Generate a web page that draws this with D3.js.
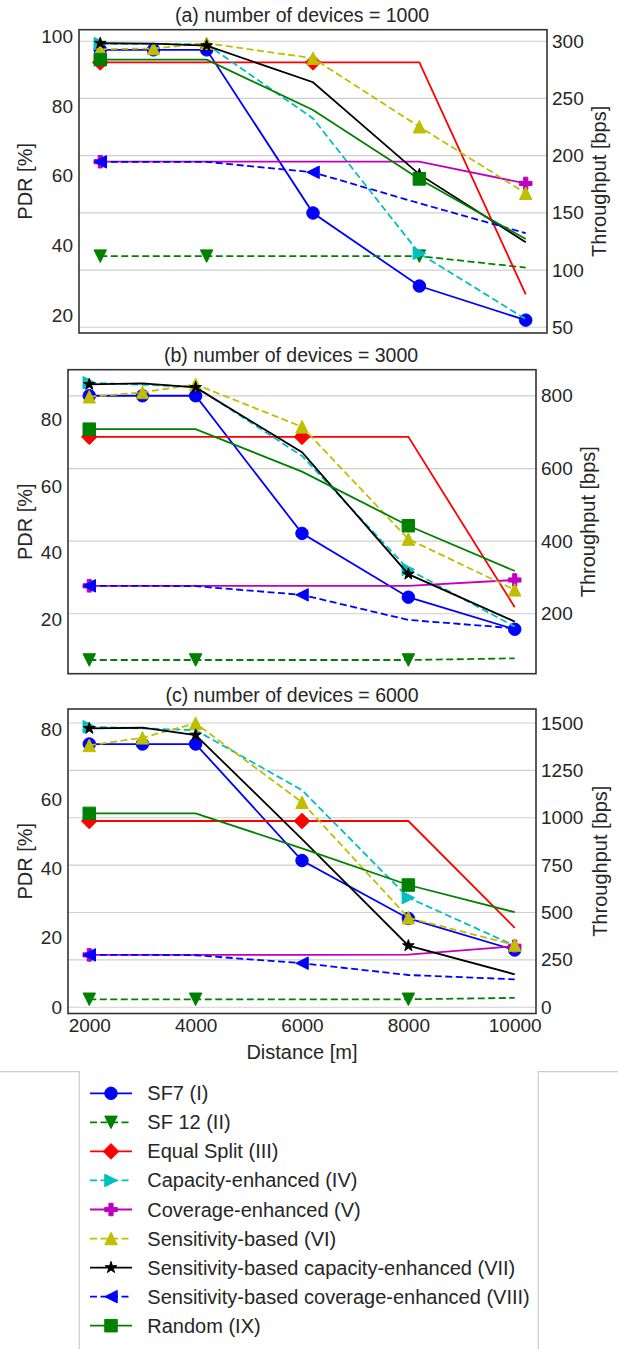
<!DOCTYPE html>
<html><head><meta charset="utf-8">
<script src="https://cdn.jsdelivr.net/npm/d3@7"></script>
<style>
body{margin:0;background:#fff}
svg{display:block}
text{font-family:"Liberation Sans",Arial,sans-serif;fill:#262626}
</style>
</head><body>
<svg id="chart" width="618" height="1349"></svg>
<script>
// ---------------- DATA ----------------
const distances = [2000, 3000, 4000, 6000, 8000, 10000];
const seriesNames = [
  "SF7 (I)", "SF 12 (II)", "Equal Split (III)", "Capacity-enhanced (IV)",
  "Coverage-enhanced (V)", "Sensitivity-based (VI)",
  "Sensitivity-based capacity-enhanced (VII)",
  "Sensitivity-based coverage-enhanced (VIII)", "Random (IX)"
];
const seriesColors = ["#0000ff", "#008000", "#ff0000", "#00bfbf", "#bf00bf", "#bfbf00", "#000000", "#0000ff", "#008000"];
const seriesDashed = [false, true, false, true, false, true, false, true, false];
const seriesMarkers = ["circle", "tri-down", "diamond", "tri-right", "plus", "tri-up", "star", "tri-left", "square"];
// indices into distances where a marker is shown
const seriesMarkerAt = [[0,1,2,3,4,5],[0,2,4],[0,3],[0,4],[0,5],[0,1,2,3,4,5],[0,2,4],[0,3],[0,4]];

const panelTitles = ["(a) number of devices = 1000", "(b) number of devices = 3000", "(c) number of devices = 6000"];

// PDR [%] per series (order of seriesNames) at each distance
const pdrPanelA = [
  [96.2, 96.2, 96.2, 49.3, 28.3, 18.5],
  [36.9, 36.9, 36.9, 36.9, 36.9, 33.6],
  [92.6, 92.6, 92.6, 92.6, 92.6, 25.9],
  [98.0, 97.9, 97.8, 76.5, 37.7, 18.8],
  [64.05, 64.05, 64.05, 64.05, 64.05, 57.8],
  [96.4, 96.6, 98.1, 93.8, 74.1, 55.0],
  [98.1, 98.0, 97.4, 86.9, 60.4, 40.9],
  [64.0, 64.0, 64.0, 61.0, 52.1, 43.5],
  [93.4, 93.4, 93.4, 78.9, 59.1, 41.8]
];
const pdrPanelB = [
  [87.0, 87.0, 87.0, 45.8, 26.7, 17.1],
  [7.9, 7.9, 7.9, 7.9, 7.9, 8.4],
  [74.7, 74.7, 74.7, 74.7, 74.7, 23.7],
  [90.9, 90.3, 89.7, 69.0, 35.0, 17.9],
  [30.1, 30.1, 30.1, 30.1, 30.1, 31.85],
  [86.7, 88.0, 90.4, 77.7, 44.1, 28.9],
  [90.4, 90.7, 89.5, 70.1, 33.6, 19.4],
  [30.1, 30.1, 30.0, 27.4, 19.9, 17.4],
  [77.0, 77.0, 77.0, 64.3, 48.1, 34.55]
];
const pdrPanelC = [
  [75.9, 75.9, 75.9, 42.3, 25.6, 16.5],
  [2.3, 2.3, 2.3, 2.3, 2.3, 2.7],
  [53.7, 53.7, 53.7, 53.7, 53.7, 22.9],
  [80.9, 80.4, 79.9, 62.6, 31.6, 17.75],
  [15.1, 15.1, 15.1, 15.1, 15.2, 17.6],
  [75.5, 77.7, 81.9, 59.1, 25.8, 17.95],
  [80.4, 80.6, 78.5, 48.5, 17.75, 9.5],
  [15.1, 15.1, 15.0, 12.7, 9.3, 8.05],
  [55.9, 55.9, 55.9, 45.8, 35.25, 27.4]
];

const pdrTicksA = [20, 40, 60, 80, 100];
const pdrTicksB = [20, 40, 60, 80];
const pdrTicksC = [0, 20, 40, 60, 80];
const thrTicksA = [50, 100, 150, 200, 250, 300];
const thrTicksB = [200, 400, 600, 800];
const thrTicksC = [0, 250, 500, 750, 1000, 1250, 1500];
const distanceTicks = [2000, 4000, 6000, 8000, 10000];
// throughput [bps] per 1 % PDR (right axis scale factor)
const throughputFactor = [3.04, 9.2, 18.3];

// ---------------- LAYOUT ----------------
const panels = [
  {data: pdrPanelA, l: pdrTicksA, r: thrTicksA, k: throughputFactor[0], title: panelTitles[0],
   x0: 79, x1: 547, y0: 29.7, y1: 333, dom: [14.8, 102], titleX: 302, titleY: 15, yl: 25, y2l: 599, showX: false},
  {data: pdrPanelB, l: pdrTicksB, r: thrTicksB, k: throughputFactor[1], title: panelTitles[1],
   x0: 68, x1: 536, y0: 369.7, y1: 673.7, dom: [3.8, 94.8], titleX: 291, titleY: 355, yl: 25, y2l: 588, showX: false},
  {data: pdrPanelC, l: pdrTicksC, r: thrTicksC, k: throughputFactor[2], title: panelTitles[2],
   x0: 68, x1: 536, y0: 709, y1: 1013.5, dom: [-1.8, 86], titleX: 292, titleY: 695, yl: 25, y2l: 600, showX: true}
];

const MS = 12.5;
function markerPath(shape) {
  const h = MS / 2;
  switch (shape) {
    case "circle": return d3.symbol(d3.symbolCircle, Math.PI * h * h)();
    case "square": return `M${-h},${-h}H${h}V${h}H${-h}Z`;
    case "diamond": { const d = h * 1.25; return `M0,${-d}L${d},0L0,${d}L${-d},0Z`; }
    case "tri-up": return `M0,${-h}L${h},${h}L${-h},${h}Z`;
    case "tri-down": return `M0,${h}L${h},${-h}L${-h},${-h}Z`;
    case "tri-right": return `M${h},0L${-h},${-h}L${-h},${h}Z`;
    case "tri-left": return `M${-h},0L${h},${-h}L${h},${h}Z`;
    case "star": {
      const R = h * 0.98, r = R * 0.382; let p = "";
      for (let i = 0; i < 10; i++) {
        const a = -Math.PI / 2 + i * Math.PI / 5, rr = i % 2 ? r : R;
        p += (i ? "L" : "M") + (rr * Math.cos(a)).toFixed(2) + "," + (rr * Math.sin(a)).toFixed(2);
      }
      return p + "Z";
    }
    case "plus": {
      const a = h / 3;
      return `M${-a},${-h}H${a}V${-a}H${h}V${a}H${a}V${h}H${-a}V${a}H${-h}V${-a}H${-a}Z`;
    }
  }
}

const svg = d3.select("#chart");
const FONT = "Liberation Sans, Arial, sans-serif";
const TICK_FS = 19;
const LABEL_FS = 20;

panels.forEach((p, pi) => {
  const x = d3.scaleLinear().domain([1600, 10400]).range([p.x0, p.x1]);
  const y = d3.scaleLinear().domain(p.dom).range([p.y1, p.y0]);
  const y2 = d3.scaleLinear().domain([p.dom[0] * p.k, p.dom[1] * p.k]).range([p.y1, p.y0]);
  const g = svg.append("g");

  // grid (right axis ticks)
  g.append("g").selectAll("line").data(p.r).join("line")
    .attr("x1", p.x0).attr("x2", p.x1)
    .attr("y1", d => y2(d)).attr("y2", d => y2(d))
    .attr("stroke", "#cfcfcf").attr("stroke-width", 1.2);

  const clipId = "clip" + pi;
  g.append("clipPath").attr("id", clipId).append("rect")
    .attr("x", p.x0).attr("y", p.y0).attr("width", p.x1 - p.x0).attr("height", p.y1 - p.y0);

  const plot = g.append("g").attr("clip-path", `url(#${clipId})`);
  const line = d3.line().x(d => x(d[0])).y(d => y(d[1]));

  p.data.forEach((vals, si) => {
    const pts = distances.map((d, i) => [d, vals[i]]);
    plot.append("path").attr("d", line(pts))
      .attr("fill", "none").attr("stroke", seriesColors[si]).attr("stroke-width", 1.8)
      .attr("stroke-dasharray", seriesDashed[si] ? "7,3.5" : null);
    plot.append("g").selectAll("path").data(seriesMarkerAt[si].map(i => pts[i])).join("path")
      .attr("d", markerPath(seriesMarkers[si]))
      .attr("transform", d => `translate(${x(d[0])},${y(d[1])})`)
      .attr("fill", seriesColors[si]).attr("stroke", seriesColors[si]).attr("stroke-width", 1);
  });

  // frame
  g.append("rect").attr("x", p.x0).attr("y", p.y0).attr("width", p.x1 - p.x0).attr("height", p.y1 - p.y0)
    .attr("fill", "none").attr("stroke", "#333").attr("stroke-width", 1.6);

  // left axis
  const la = g.append("g").attr("transform", `translate(${p.x0},0)`)
    .call(d3.axisLeft(y).tickValues(p.l).tickSize(0).tickPadding(6).tickFormat(d3.format("d")));
  la.select(".domain").remove();
  la.selectAll("text").attr("font-size", TICK_FS).attr("font-family", FONT).attr("fill", "#262626");

  // right axis
  const ra = g.append("g").attr("transform", `translate(${p.x1},0)`)
    .call(d3.axisRight(y2).tickValues(p.r).tickSize(0).tickPadding(5).tickFormat(d3.format("d")));
  ra.select(".domain").remove();
  ra.selectAll("text").attr("font-size", TICK_FS).attr("font-family", FONT).attr("fill", "#262626");

  if (p.showX) {
    const xa = g.append("g").attr("transform", `translate(0,${p.y1})`)
      .call(d3.axisBottom(x).tickValues(distanceTicks).tickSize(0).tickPadding(5).tickFormat(d3.format("d")));
    xa.select(".domain").remove();
    xa.selectAll("text").attr("font-size", TICK_FS).attr("font-family", FONT).attr("fill", "#262626");
    g.append("text").attr("x", (p.x0 + p.x1) / 2).attr("y", 1052).attr("text-anchor", "middle")
      .attr("dominant-baseline", "central").attr("font-size", LABEL_FS).text("Distance [m]");
  }

  // titles & labels
  g.append("text").attr("x", p.titleX).attr("y", p.titleY).attr("text-anchor", "middle")
    .attr("dominant-baseline", "central").attr("font-size", 19.5).text(p.title);
  const cy = (p.y0 + p.y1) / 2;
  g.append("text").attr("transform", `translate(${p.yl},${cy}) rotate(-90)`).attr("text-anchor", "middle")
    .attr("dominant-baseline", "central").attr("font-size", LABEL_FS).text("PDR [%]");
  g.append("text").attr("transform", `translate(${p.y2l},${cy}) rotate(-90)`).attr("text-anchor", "middle")
    .attr("dominant-baseline", "central").attr("font-size", LABEL_FS).text("Throughput [bps]");
});

// ---------------- LEGEND ----------------
const lg = svg.append("g");
lg.append("path").attr("d", "M0,1071.7H79.3V1349M618,1071.7H538.3V1349")
  .attr("fill", "none").attr("stroke", "#cccccc").attr("stroke-width", 1.2);
seriesNames.forEach((name, si) => {
  const yy = 1093.3 + si * 29.05;
  lg.append("line").attr("x1", 90).attr("x2", 132).attr("y1", yy).attr("y2", yy)
    .attr("stroke", seriesColors[si]).attr("stroke-width", 1.8)
    .attr("stroke-dasharray", seriesDashed[si] ? "7,3.5" : null);
  lg.append("path").attr("d", markerPath(seriesMarkers[si])).attr("transform", `translate(111,${yy})`)
    .attr("fill", seriesColors[si]).attr("stroke", seriesColors[si]).attr("stroke-width", 1);
  lg.append("text").attr("x", 147.3).attr("y", yy).attr("dominant-baseline", "central")
    .attr("font-size", LABEL_FS).text(name);
});
</script>
</body></html>
